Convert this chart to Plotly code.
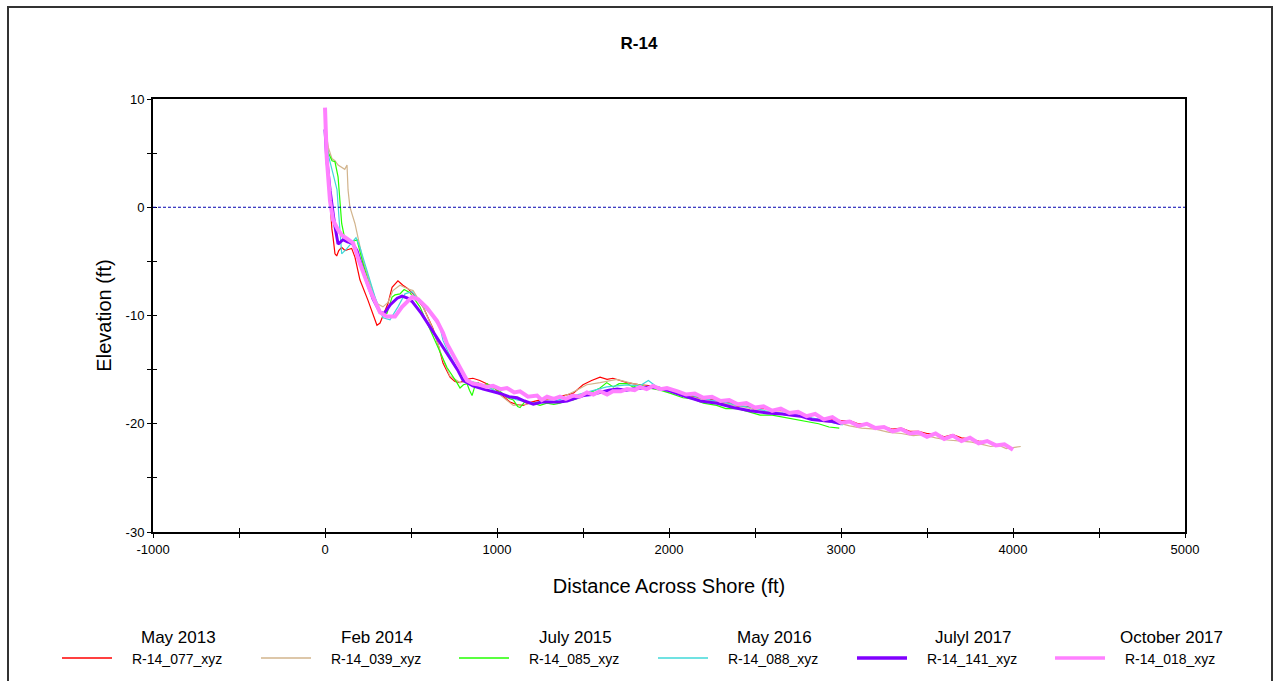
import plotly.graph_objects as go

# ---------------- data ----------------
x_may2013 = [0, 5, 15, 29, 40, 47, 58, 68, 80, 97, 116, 135, 155, 174, 203, 250, 280, 302, 320, 345, 366, 390, 424, 453, 480, 512, 570, 628, 660, 686, 710, 727, 755, 785, 820, 860, 900, 942, 980, 1017, 1050, 1076, 1110, 1151, 1200, 1250, 1310, 1366, 1442, 1500, 1550, 1599, 1640, 1674, 1720, 1756, 1831, 1900, 1948, 2020, 2081, 2150, 2200, 2260, 2300, 2360, 2400, 2460, 2500, 2560, 2600, 2660, 2700, 2750, 2800, 2850, 2900, 2950, 3000, 3050, 3100, 3150, 3200, 3250, 3300, 3350, 3400, 3450, 3500, 3550, 3600, 3650, 3700, 3750, 3800, 3850, 3900, 3950]
y_may2013 = [8.9, 8.6, 4.0, 0.0, -2.0, -2.8, -4.3, -4.5, -4.0, -3.7, -4.0, -3.9, -3.8, -4.6, -6.7, -8.6, -9.9, -10.9, -10.7, -9.8, -8.9, -7.4, -6.8, -7.2, -7.5, -8.0, -9.2, -11.2, -12.8, -14.4, -15.2, -15.7, -16.1, -16.2, -15.9, -15.8, -16.0, -16.3, -16.6, -17.2, -17.7, -18.0, -18.2, -18.3, -18.0, -17.8, -17.7, -17.5, -17.2, -16.4, -16.0, -15.7, -15.9, -15.8, -16.0, -16.2, -16.4, -16.5, -16.7, -17.0, -17.4, -17.5, -17.7, -17.8, -18.0, -18.1, -18.4, -18.4, -18.6, -18.6, -18.8, -18.8, -19.0, -19.0, -19.2, -19.2, -19.5, -19.6, -19.7, -19.7, -20.0, -20.0, -20.3, -20.3, -20.5, -20.4, -20.7, -20.7, -20.9, -20.9, -21.2, -21.0, -21.3, -21.4, -21.6, -21.7, -21.9, -22.0]

x_feb2014 = [0, 20, 40, 58, 76, 97, 115, 128, 134, 145, 174, 192, 221, 262, 302, 337, 366, 395, 436, 477, 512, 570, 628, 660, 686, 727, 785, 830, 882, 959, 1000, 1037, 1095, 1172, 1230, 1290, 1385, 1463, 1522, 1599, 1696, 1792, 1891, 1988, 2080, 2150, 2220, 2300, 2380, 2450, 2520, 2600, 2680, 2750, 2830, 2900, 2980, 3050, 3120, 3200, 3280, 3350, 3420, 3480, 3550, 3620, 3700, 3760, 3820, 3870, 3920, 3960, 4000, 4045]
y_feb2014 = [7.5, 5.5, 4.5, 4.3, 3.9, 3.7, 3.5, 3.9, 1.6, 0.0, -1.5, -2.8, -4.9, -7.0, -8.9, -9.2, -8.8, -7.7, -7.2, -7.5, -7.7, -9.2, -11.3, -12.8, -14.1, -15.6, -16.2, -16.1, -16.2, -16.6, -17.1, -17.6, -18.3, -18.2, -18.0, -17.8, -17.5, -16.9, -16.4, -16.2, -15.9, -16.3, -16.6, -16.9, -17.3, -17.6, -17.8, -18.1, -18.3, -18.5, -18.8, -18.9, -19.2, -19.3, -19.5, -19.8, -19.9, -20.2, -20.4, -20.5, -20.8, -20.9, -21.1, -21.0, -21.3, -21.5, -21.6, -21.7, -21.9, -22.1, -22.0, -22.3, -22.2, -22.1]

x_jul2015 = [0, 20, 41, 58, 76, 87, 97, 116, 157, 186, 221, 279, 320, 360, 390, 407, 436, 460, 494, 552, 593, 628, 651, 709, 767, 785, 805, 826, 840, 855, 870, 890, 915, 942, 980, 1017, 1060, 1095, 1120, 1134, 1160, 1211, 1250, 1290, 1330, 1366, 1400, 1442, 1480, 1522, 1560, 1599, 1638, 1676, 1710, 1756, 1790, 1831, 1880, 1948, 2010, 2081, 2140, 2200, 2277, 2330, 2400, 2471, 2530, 2600, 2665, 2720, 2762, 2820, 2870, 2930, 2990]
y_jul2015 = [6.5, 5.0, 4.3, 4.2, 2.8, 0.6, -1.5, -3.0, -3.2, -3.0, -5.2, -8.3, -9.7, -9.8, -8.3, -8.1, -8.0, -7.6, -7.9, -9.2, -10.7, -11.9, -12.7, -14.8, -16.2, -16.7, -16.4, -16.3, -16.9, -17.4, -16.6, -16.2, -16.6, -16.3, -16.7, -17.0, -17.6, -17.8, -18.4, -18.5, -18.0, -18.1, -18.3, -18.1, -18.2, -18.1, -17.9, -17.8, -17.6, -17.1, -17.0, -16.7, -16.2, -16.6, -16.3, -16.3, -16.6, -16.4, -16.7, -16.9, -17.2, -17.6, -17.7, -18.1, -18.3, -18.6, -18.6, -18.9, -19.2, -19.2, -19.4, -19.6, -19.7, -19.9, -20.0, -20.3, -20.4]

x_may2016 = [0, 20, 45, 70, 81, 90, 97, 128, 157, 180, 203, 244, 291, 337, 378, 424, 465, 506, 552, 610, 669, 686, 720, 767, 826, 870, 920, 970, 1017, 1117, 1211, 1309, 1408, 1522, 1638, 1756, 1831, 1880, 1930, 2000, 2081, 2160, 2240, 2320, 2400, 2480, 2560, 2640, 2720, 2800, 2880, 2950, 3010]
y_may2016 = [6.8, 4.8, 3.2, 1.6, -0.9, -3.0, -4.3, -3.8, -3.3, -2.8, -3.7, -5.8, -8.3, -10.2, -10.4, -9.2, -8.0, -7.8, -8.8, -9.8, -11.1, -12.3, -13.5, -14.8, -16.0, -16.2, -16.4, -16.8, -17.2, -17.8, -18.1, -18.0, -17.6, -17.1, -16.6, -16.4, -16.5, -16.0, -16.6, -16.9, -17.2, -17.5, -17.8, -18.0, -18.3, -18.5, -18.8, -19.0, -19.2, -19.4, -19.6, -19.9, -20.1]

x_jul2017 = [0, 10, 30, 55, 76, 90, 105, 130, 157, 186, 230, 280, 320, 345, 380, 420, 448, 480, 506, 560, 628, 680, 727, 770, 803, 860, 920, 970, 1018, 1070, 1117, 1160, 1211, 1260, 1309, 1360, 1408, 1460, 1502, 1550, 1600, 1650, 1699, 1750, 1792, 1840, 1891, 1940, 1990, 2080, 2182, 2280, 2374, 2470, 2572, 2660, 2764, 2830, 2900, 2950, 3000]
y_jul2017 = [7.2, 4.5, 1.5, -1.5, -3.4, -3.2, -3.0, -3.2, -3.3, -4.0, -6.3, -8.5, -9.7, -9.8, -9.0, -8.4, -8.2, -8.4, -8.7, -9.8, -11.5, -12.8, -13.9, -15.0, -16.0, -16.5, -16.8, -17.0, -17.2, -17.5, -17.6, -17.9, -18.2, -18.0, -18.0, -18.0, -17.9, -17.6, -17.4, -17.3, -17.1, -16.9, -16.8, -16.9, -16.8, -16.7, -16.6, -16.7, -16.9, -17.4, -17.9, -18.1, -18.5, -18.8, -19.0, -19.1, -19.3, -19.6, -19.7, -19.8, -20.0]

x_oct2017 = [0, 10, 29, 47, 76, 100, 128, 163, 203, 262, 320, 360, 407, 448, 506, 541, 593, 651, 686, 709, 740, 773, 800, 826, 860, 901, 940, 977, 1020, 1058, 1100, 1134, 1180, 1233, 1260, 1291, 1330, 1366, 1400, 1442, 1480, 1523, 1560, 1599, 1640, 1674, 1720, 1756, 1800, 1831, 1870, 1907, 1950, 1988, 2050, 2100, 2150, 2200, 2250, 2300, 2350, 2400, 2450, 2500, 2550, 2600, 2650, 2700, 2750, 2800, 2850, 2900, 2950, 3000, 3050, 3100, 3150, 3200, 3250, 3300, 3350, 3400, 3450, 3500, 3550, 3600, 3650, 3700, 3750, 3800, 3850, 3900, 3950, 4000]
y_oct2017 = [9.2, 4.6, 0.6, -1.2, -2.1, -2.6, -2.9, -3.3, -5.2, -7.7, -9.7, -10.1, -10.1, -9.2, -8.3, -8.5, -9.3, -10.5, -11.6, -12.6, -13.5, -14.4, -15.2, -16.0, -16.3, -16.4, -16.6, -16.5, -16.8, -16.7, -17.1, -17.0, -17.5, -17.4, -17.8, -17.5, -17.7, -17.5, -17.7, -17.4, -17.5, -17.1, -17.3, -17.0, -17.3, -17.0, -17.0, -16.8, -16.9, -16.6, -16.8, -16.5, -16.8, -16.7, -17.0, -17.3, -17.2, -17.6, -17.5, -17.9, -17.8, -18.2, -18.1, -18.5, -18.4, -18.8, -18.6, -19.0, -18.9, -19.3, -19.1, -19.6, -19.4, -19.9, -19.8, -20.2, -20.0, -20.4, -20.3, -20.7, -20.5, -20.9, -20.8, -21.2, -20.9, -21.4, -21.1, -21.6, -21.3, -21.8, -21.6, -22.0, -21.9, -22.4]

series_dates = ["May 2013", "Feb 2014", "July 2015", "May 2016", "Julyl 2017", "October 2017"]
series_names = ["R-14_077_xyz", "R-14_039_xyz", "R-14_085_xyz", "R-14_088_xyz", "R-14_141_xyz", "R-14_018_xyz"]
series_x = [x_may2013, x_feb2014, x_jul2015, x_may2016, x_jul2017, x_oct2017]
series_y = [y_may2013, y_feb2014, y_jul2015, y_may2016, y_jul2017, y_oct2017]

x_ticks = [-1000, 0, 1000, 2000, 3000, 4000, 5000]
x_tick_text = ["-1000", "0", "1000", "2000", "3000", "4000", "5000"]
y_ticks = [10, 0, -10, -20, -30]
y_tick_text = ["10", "0", "-10", "-20", "-30"]

# ---------------- style ----------------
colors = ["#FF0000", "#D2B48C", "#22FF00", "#40D8D8", "#8000FF", "#FF80FF"]
widths = [1.2, 1.2, 1.2, 1.2, 3, 4]
legend_widths = [1.5, 1.5, 1.5, 1.5, 3.5, 3.5]
FONT = "Arial, Liberation Sans, sans-serif"

W_FIG, H_FIG = 1278, 681
L, R, T, B = 153, 93, 99, 149
PW, PH = W_FIG - L - R, H_FIG - T - B


def xp(px):
    return (px - L) / PW


def yp(py):
    return (H_FIG - B - py) / PH


fig = go.Figure()
for xs, ys, c, w, nm in zip(series_x, series_y, colors, widths, series_names):
    fig.add_trace(go.Scatter(x=xs, y=ys, mode="lines", name=nm,
                             line=dict(color=c, width=w), showlegend=False))

# helper trace for the overlaid (inside-tick) axes
fig.add_trace(go.Scatter(x=[None], y=[None], xaxis="x2", yaxis="y2",
                         showlegend=False, hoverinfo="skip"))

shapes = []
# zero line
shapes.append(dict(type="line", xref="x", yref="y", x0=-1000, x1=5000, y0=0, y1=0,
                   line=dict(color="#0000B0", width=1, dash="3px,2px")))
# outer frame
shapes.append(dict(type="rect", xref="paper", yref="paper",
                   x0=xp(8), x1=xp(1272), y0=yp(700), y1=yp(7),
                   line=dict(color="#333333", width=2), layer="below"))

annotations = []
item_start = [62, 261, 459, 658, 857, 1055]
for i in range(6):
    lx = item_start[i]
    shapes.append(dict(type="line", xref="paper", yref="paper",
                       x0=xp(lx), x1=xp(lx + 50), y0=yp(658), y1=yp(658),
                       line=dict(color=colors[i], width=legend_widths[i])))
    annotations.append(dict(x=xp(lx + 68), y=yp(659), xref="paper", yref="paper",
                            text=series_names[i], showarrow=False, xanchor="left",
                            yanchor="middle", font=dict(family=FONT, size=14, color="black")))
    annotations.append(dict(x=xp(lx + 116), y=yp(637), xref="paper", yref="paper",
                            text=series_dates[i], showarrow=False, xanchor="center",
                            yanchor="middle", font=dict(family=FONT, size=17, color="black")))

axis_common = dict(showgrid=False, zeroline=False, ticklen=4, tickwidth=1,
                   tickcolor="black")

fig.update_layout(
    width=W_FIG, height=H_FIG,
    margin=dict(l=L, r=R, t=T, b=B),
    paper_bgcolor="white", plot_bgcolor="white",
    title=dict(text="<b>R-14</b>", x=0.5, xref="container", xanchor="center",
               y=1 - 43 / H_FIG, yanchor="middle",
               font=dict(family=FONT, size=17, color="black")),
    xaxis=dict(range=[-1000, 5000], tickvals=x_ticks, ticktext=x_tick_text, ticks="outside",
               minor=dict(dtick=500, ticks="outside", ticklen=4, tickcolor="black"),
               showline=True, linecolor="black", linewidth=2, mirror=True,
               tickfont=dict(family=FONT, size=13, color="black"),
               title=dict(text="Distance Across Shore (ft)", standoff=23,
                          font=dict(family=FONT, size=20, color="black")),
               **axis_common),
    yaxis=dict(range=[-30, 10], tickvals=y_ticks, ticktext=y_tick_text, ticks="outside",
               minor=dict(dtick=5, ticks="outside", ticklen=4, tickcolor="black"),
               showline=True, linecolor="black", linewidth=2, mirror=True,
               tickfont=dict(family=FONT, size=13, color="black"),
               title=dict(text="Elevation (ft)", standoff=9,
                          font=dict(family=FONT, size=20, color="black")),
               **axis_common),
    xaxis2=dict(range=[-1000, 5000], overlaying="x", anchor="y2", side="bottom",
                dtick=500, tick0=0, ticks="inside", showticklabels=False,
                showline=False, **axis_common),
    yaxis2=dict(range=[-30, 10], overlaying="y", anchor="x2", side="left",
                dtick=5, tick0=0, ticks="inside", showticklabels=False,
                showline=False, **axis_common),
    shapes=shapes,
    annotations=annotations,
    showlegend=False,
)

fig.write_html("out.html")
